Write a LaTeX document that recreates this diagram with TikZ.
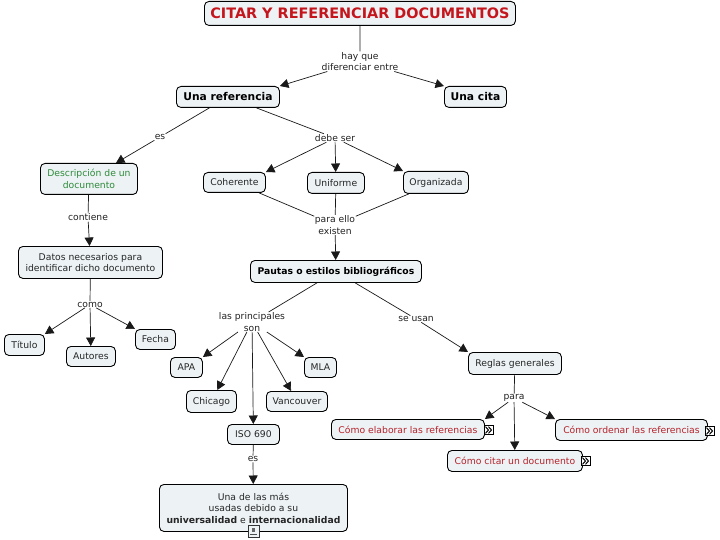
\documentclass[tikz,border=0pt]{standalone}
\usepackage{fontspec}
\setmainfont{DejaVu Sans}
\usetikzlibrary{arrows.meta,calc}
\definecolor{boxfill}{HTML}{EDF2F5}
\definecolor{redtxt}{HTML}{B5232B}
\definecolor{titlered}{HTML}{C4161C}
\definecolor{greentxt}{HTML}{2E8B3A}
\definecolor{labeltxt}{HTML}{222222}
\tikzset{
  x=1pt,y=-1pt,
  concept/.style={draw=black,line width=0.9pt,fill=boxfill,rounded corners=4.5pt,align=center,
     inner sep=0pt,minimum width=#1,font=\fontsize{9.25}{11.5}\selectfont,text=black!85},
  concept/.default=40pt,
  linklabel/.style={align=center,inner sep=0.5pt,fill=white,font=\fontsize{9.2}{11.5}\selectfont,text=labeltxt},
  plain/.style={line width=0.7pt,draw=black!90},
  arrowed/.style={plain,-{Triangle[length=8.5pt,width=9pt]}},
  chevbox/.style={draw=black,line width=0.9pt,fill=white,inner sep=0pt,minimum width=9.5pt,minimum height=9.5pt},
}
\begin{document}
\begin{tikzpicture}
\useasboundingbox (0,0) rectangle (720,540);
\newcommand{\cbox}[7][]{\node[concept,minimum width=#4-#2,minimum height=#5-#3,anchor=north west,#1] (#6) at (#2,#3) {#7};}
% link labels
\node[linklabel] (l1) at (360,61.5) {hay que\\diferenciar entre};
\node[linklabel] (l2) at (160,137) {es};
\node[linklabel] (l3) at (335,138) {debe ser};
\node[linklabel] (l4) at (88,217.5) {contiene};
\node[linklabel] (l5) at (335,225) {para ello\\existen};
\node[linklabel] (l6) at (90,304.5) {como};
\node[linklabel] (l7) at (252,322) {las principales\\son};
\node[linklabel] (l8) at (416,319) {se usan};
\node[linklabel] (l9) at (514,398) {para};
\node[linklabel] (l10) at (253,459) {es};
% concepts
\cbox[font=\fontsize{14.4}{16}\selectfont\bfseries,text=titlered]{204}{1}{515}{25}{title}{CITAR Y REFERENCIAR DOCUMENTOS}
\cbox[font=\fontsize{10.7}{12}\selectfont\bfseries,text=black]{176}{86}{279}{107}{ref}{Una referencia}
\cbox[font=\fontsize{10.7}{12}\selectfont\bfseries,text=black]{444}{86}{506}{107}{cita}{Una cita}
\cbox[text=greentxt]{40}{163}{137}{194}{desc}{Descripción de un\\documento}
\cbox{203}{172}{265}{192}{coh}{Coherente}
\cbox{307}{172}{364}{193}{uni}{Uniforme}
\cbox{403}{171}{468}{193}{org}{Organizada}
\cbox{18}{246}{162}{278}{datos}{Datos necesarios para\\identificar dicho documento}
\cbox[font=\fontsize{9.25}{11}\selectfont\bfseries,text=black]{250}{260}{421}{282}{pautas}{Pautas o estilos bibliográficos}
\cbox{4}{334}{44}{355}{tit}{Título}
\cbox{66}{346}{115}{366}{aut}{Autores}
\cbox{135}{329}{175}{349}{fec}{Fecha}
\cbox{170}{357}{202}{377}{apa}{APA}
\cbox{304}{357}{336}{377}{mla}{MLA}
\cbox{186}{390}{236}{412}{chi}{Chicago}
\cbox{266}{391}{327}{411}{van}{Vancouver}
\cbox{227}{424}{279}{444}{iso}{ISO 690}
\cbox{159}{484}{347}{531}{una}{Una de las más\\usadas debido a su\\\textbf{universalidad} e \textbf{internacionalidad}}
\cbox{468}{352}{561}{374}{reg}{Reglas generales}
\cbox[text=redtxt]{331}{419}{484}{439}{ela}{Cómo elaborar las referencias}
\cbox[text=redtxt]{555}{419}{707}{440}{ord}{Cómo ordenar las referencias}
\cbox[text=redtxt]{447}{450}{582}{471}{cit}{Cómo citar un documento}
% connectors
\draw[plain] (title) -- (l1);
\draw[arrowed] (l1) -- (ref.north east);
\draw[arrowed] (l1) -- (cita.north west);
\draw[plain] (ref) -- (l2);
\draw[arrowed] (l2) -- (desc);
\draw[plain] (ref) -- (l3);
\draw[arrowed] (l3) -- (coh.north east);
\draw[arrowed] (l3) -- (uni);
\draw[arrowed] (l3) -- (org.north west);
\draw[plain] (desc) -- (l4);
\draw[arrowed] (l4) -- (datos);
\draw[plain] (coh) -- (l5);
\draw[plain] (uni) -- (l5);
\draw[plain] (org) -- (l5);
\draw[arrowed] (l5) -- (pautas);
\draw[plain] (datos) -- (l6);
\draw[arrowed] (l6) -- (tit.north east);
\draw[arrowed] (l6) -- (aut);
\draw[arrowed] (l6) -- (fec.north west);
\draw[plain] (pautas) -- (l7);
\draw[plain] (pautas) -- (l8);
\draw[arrowed] (l7) -- (apa.north east);
\draw[arrowed] (l7) -- (chi);
\draw[arrowed] (l7) -- (iso);
\draw[arrowed] (l7) -- (van);
\draw[arrowed] (l7) -- (mla.north west);
\draw[plain] (iso) -- (l10);
\draw[arrowed] (l10) -- (una);
\draw[arrowed] (l8) -- (reg.north west);
\draw[plain] (reg) -- (l9);
\draw[arrowed] (l9) -- (ela.north east);
\draw[arrowed] (l9) -- (ord.north west);
\draw[arrowed] (l9) -- (cit);
% icons
\foreach \n/\x/\y in {c1/489/430,c2/710/431,c3/586/461}{
  \node[chevbox] (\n) at (\x,\y) {};
  \draw[line width=1pt] (\x-3.5,\y-3.3) -- (\x-0.5,\y) -- (\x-3.5,\y+3.3);
  \draw[line width=1pt] (\x-0.5,\y-3.3) -- (\x+2.5,\y) -- (\x-0.5,\y+3.3);
}
\node[draw=black!80,line width=0.9pt,fill=boxfill,minimum width=11pt,minimum height=12.5pt,inner sep=0pt] (doc) at (253.5,531.5) {};
\fill[black!70] (250,533.5) rectangle (257,535);
\fill[black!60] (252,528) rectangle (255,532);
\end{tikzpicture}
\end{document}
